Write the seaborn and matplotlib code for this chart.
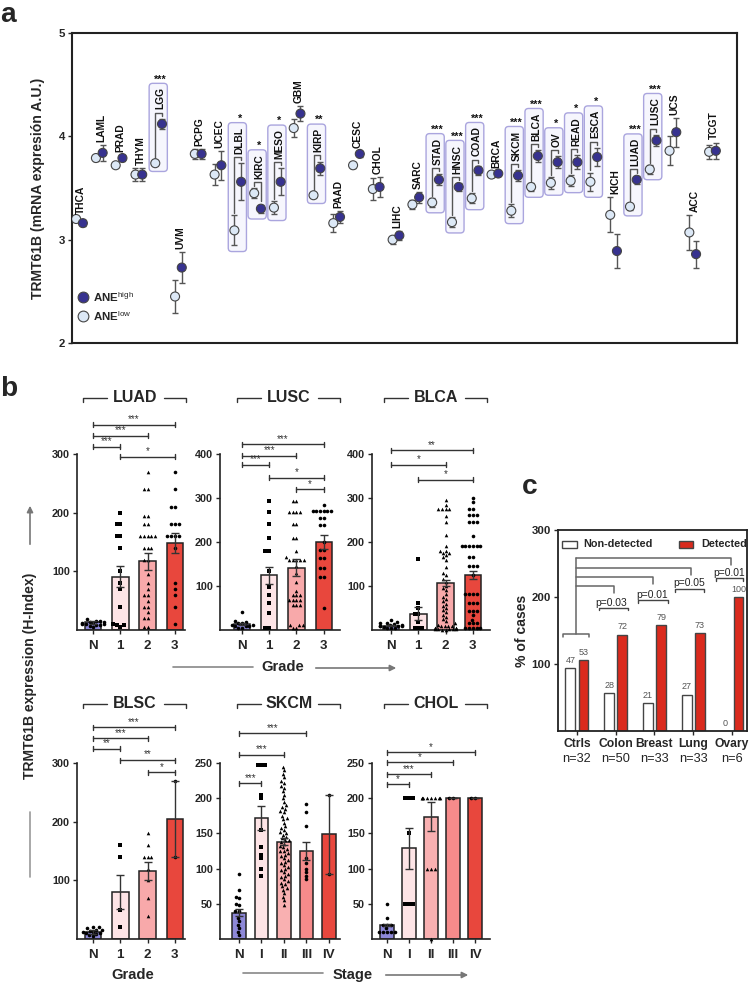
import warnings
warnings.filterwarnings('ignore')
import numpy as np
import pandas as pd
import matplotlib
matplotlib.use('Agg')
import matplotlib.pyplot as plt
import seaborn as sns
from matplotlib.patches import FancyBboxPatch, Rectangle, FancyArrowPatch
from matplotlib.lines import Line2D
from matplotlib import font_manager

# ---------------- data: panel a ----------------
cancers = ['THCA', 'LAML', 'PRAD', 'THYM', 'LGG', 'UVM', 'PCPG', 'UCEC', 'DLBL', 'KIRC', 'MESO',
           'GBM', 'KIRP', 'PAAD', 'CESC', 'CHOL', 'LIHC', 'SARC', 'STAD', 'HNSC', 'COAD', 'BRCA',
           'SKCM', 'BLCA', 'OV', 'READ', 'ESCA', 'KICH', 'LUAD', 'LUSC', 'UCS', 'ACC', 'TCGT']
ane_low = [3.20, 3.79, 3.72, 3.63, 3.74, 2.45, 3.83, 3.63, 3.09, 3.45, 3.31, 4.08, 3.43, 3.16, 3.72,
           3.49, 3.00, 3.34, 3.36, 3.17, 3.40, 3.63, 3.28, 3.51, 3.55, 3.57, 3.56, 3.24, 3.32, 3.68,
           3.86, 3.07, 3.85]
ane_high = [3.16, 3.84, 3.79, 3.63, 4.12, 2.73, 3.83, 3.72, 3.56, 3.30, 3.56, 4.22, 3.69, 3.22, 3.83,
            3.51, 3.04, 3.41, 3.58, 3.51, 3.67, 3.64, 3.62, 3.81, 3.75, 3.75, 3.80, 2.89, 3.58, 3.96,
            4.04, 2.86, 3.86]
err_low = [0.02, 0.03, 0.02, 0.065, 0.02, 0.16, 0.05, 0.10, 0.145, 0.05, 0.065, 0.09, 0.02, 0.09, 0.03,
           0.11, 0.04, 0.045, 0.04, 0.045, 0.05, 0.02, 0.065, 0.04, 0.06, 0.055, 0.09, 0.17, 0.03, 0.04,
           0.14, 0.17, 0.065]
err_high = [0.03, 0.08, 0.03, 0.065, 0.05, 0.15, 0.05, 0.14, 0.18, 0.04, 0.13, 0.07, 0.065, 0.06, 0.03,
            0.10, 0.04, 0.055, 0.055, 0.04, 0.045, 0.02, 0.055, 0.055, 0.06, 0.07, 0.09, 0.165, 0.04,
            0.055, 0.14, 0.13, 0.08]
sig_a = ['', '', '', '', '***', '', '', '', '*', '*', '*', '', '**', '', '', '', '', '', '***', '***',
         '***', '', '***', '***', '*', '*', '*', '', '***', '***', '', '', '']

# ---------------- data: panel b ----------------
cats_grade = ['N', '1', '2', '3']
cats_stage = ['N', 'I', 'II', 'III', 'IV']

luad_mean = [13, 91, 117, 148]
luad_sem = [3, 18, 14, 17]
luad_N = [5, 7, 9, 10, 11, 12, 13, 14, 15, 16, 18, 8, 10, 12]
luad_1 = [200, 180, 180, 160, 160, 140, 100, 80, 70, 40, 10, 8, 8, 5]
luad_2 = [270, 240, 240, 195, 195, 180, 180, 160, 160, 160, 160, 160, 140, 140, 140, 120, 120, 95, 80,
          70, 60, 60, 50, 40, 40, 30, 20, 20, 5, 5]
luad_3 = [270, 240, 210, 210, 180, 180, 180, 160, 160, 160, 160, 140, 80, 70, 60, 40, 10]
luad_sig = [(0, 3, '***', 350), (0, 2, '***', 331), (0, 1, '***', 312), (1, 3, '*', 295)]

lusc_mean = [14, 124, 142, 200]
lusc_sem = [3, 20, 20, 15]
lusc_N = [40, 20, 18, 15, 15, 12, 12, 10, 10, 8, 5, 5]
lusc_1 = [294, 269, 242, 208, 180, 180, 133, 98, 80, 61, 39, 5, 5]
lusc_2 = [294, 294, 269, 269, 269, 269, 240, 240, 208, 208, 180, 165, 159, 159, 159, 159, 159, 145,
          130, 110, 89, 80, 80, 80, 68, 68, 68, 68, 57, 57, 57, 11, 11, 11, 5, 5]
lusc_3 = [285, 270, 270, 270, 270, 270, 270, 254, 254, 239, 239, 200, 182, 182, 163, 163, 140, 140,
          121, 121, 51]
lusc_sig = [(0, 3, '***', 422), (0, 2, '***', 396), (0, 1, '***', 375), (1, 3, '*', 346), (2, 3, '*', 320)]

blca_mean = [10, 37, 107, 125]
blca_sem = [2, 15, 7, 8]
blca_N = [22, 18, 15, 13, 12, 10, 10, 8, 8, 6, 5, 5, 4, 12, 15]
blca_1 = [161, 61, 49, 36, 36, 19, 5, 5, 5]
blca_2 = [295, 285, 275, 275, 275, 275, 260, 245, 215, 190, 180, 180, 175, 175, 170, 165, 160, 143,
          130, 124, 115, 110, 100, 95, 90, 81, 75, 70, 65, 60, 55, 50, 45, 40, 35, 30, 25, 20, 15, 12,
          10, 10, 8, 8, 5, 5, 5, 5, 3, 3, 2, 2, 2, 0, 0]
blca_3 = [300, 290, 275, 275, 262, 262, 262, 245, 245, 245, 213, 190, 190, 190, 190, 190, 190, 166,
          166, 146, 146, 146, 124, 81, 81, 81, 81, 62, 62, 62, 43, 43, 43, 34, 23, 15, 15, 15, 4, 4,
          4, 4, 4]
blca_sig = [(0, 3, '**', 408), (0, 2, '*', 375), (1, 3, '*', 341)]

blsc_mean = [12, 80, 116, 205]
blsc_sem = [3, 29, 15, 65]
blsc_N = [20, 20, 18, 15, 15, 12, 10, 10, 8, 6, 5, 12, 14]
blsc_1 = [160, 140, 50, 20]
blsc_2 = [180, 160, 140, 140, 140, 120, 100, 70, 40]
blsc_3 = [270, 140]
blsc_sig = [(0, 3, '***', 361), (0, 2, '***', 342), (0, 1, '**', 324), (1, 3, '**', 305), (2, 3, '*', 284)]

skcm_mean = [37, 172, 138, 125, 149]
skcm_sem = [5, 17, 5, 13, 56]
skcm_N = [92, 70, 60, 58, 50, 48, 40, 40, 30, 25, 20, 15, 10, 5]
skcm_1 = [247, 247, 247, 205, 200, 155, 130, 120, 115, 100, 90]
skcm_2 = [245, 240, 235, 230, 225, 222, 218, 215, 210, 205, 200, 195, 190, 188, 185, 182, 180, 175,
          172, 170, 165, 160, 158, 155, 152, 150, 148, 145, 143, 140, 140, 138, 135, 132, 130, 128,
          125, 125, 122, 120, 118, 115, 112, 110, 108, 105, 102, 100, 98, 95, 92, 90, 88, 85, 82, 80,
          78, 75, 72, 70, 65, 60, 55, 48]
skcm_3 = [192, 180, 160, 115, 108, 100, 95, 90, 85]
skcm_4 = [205, 93]
skcm_sig = [(0, 3, '***', 292), (0, 2, '***', 262), (0, 1, '***', 221)]

chol_mean = [20, 129, 174, 200, 200]
chol_sem = [2, 29, 21, 0, 0]
chol_N = [50, 30, 20, 20, 10, 10, 10, 10, 10, 20, 15]
chol_1 = [200, 200, 200, 150, 50, 50, 50]
chol_2 = [200, 200, 200, 200, 200, 200, 200, 200, 100, 100, 100, 0]
chol_3 = [200, 200]
chol_4 = [200, 200]
chol_sig = [(0, 4, '*', 265), (0, 3, '*', 251), (0, 2, '***', 234), (0, 1, '*', 220)]

# ---------------- data: panel c ----------------
c_groups = ['Ctrls', 'Colon', 'Breast', 'Lung', 'Ovary']
c_n = ['n=32', 'n=50', 'n=33', 'n=33', 'n=6']
nondet_h = [94, 56, 42, 54, 0]
det_h = [106, 144, 158, 146, 200]
nondet_lbl = ['47', '28', '21', '27', '0']
det_lbl = ['53', '72', '79', '73', '100']
c_pvals = ['p=0.03', 'p=0.01', 'p=0.05', 'p=0.01']

# ---------------- style ----------------
sns.set_theme(style='white')
avail = {f.name for f in font_manager.fontManager.ttflist}
base_font = 'Liberation Sans Narrow' if 'Liberation Sans Narrow' in avail else 'Liberation Sans'
plt.rcParams['font.family'] = [base_font, 'DejaVu Sans']
plt.rcParams['mathtext.fontset'] = 'custom'
plt.rcParams['mathtext.rm'] = base_font
plt.rcParams['mathtext.bf'] = base_font + ':bold'
plt.rcParams['axes.edgecolor'] = '#222222'
NARROW = base_font == 'Liberation Sans Narrow'
fs = (lambda v: v * 1.08) if NARROW else (lambda v: v * 0.92)

W, H = 749, 983
fig = plt.figure(figsize=(W / 100, H / 100), dpi=100)
fig.patch.set_facecolor('white')


def px_axes(l, t, r, b):
    return fig.add_axes([l / W, 1 - b / H, (r - l) / W, (b - t) / H])


def fline(xs, ys, **kw):
    fig.add_artist(Line2D([x / W for x in xs], [1 - y / H for y in ys],
                          transform=fig.transFigure, **kw))


def ftext(x, y, s, **kw):
    fig.text(x / W, 1 - y / H, s, **kw)


def farrow(x0, y0, x1, y1):
    fig.add_artist(FancyArrowPatch((x0 / W, 1 - y0 / H), (x1 / W, 1 - y1 / H),
                                   transform=fig.transFigure, arrowstyle='-|>',
                                   mutation_scale=9, color='#777777', lw=1.2))


DARK = '#37328f'
LIGHT = '#dce8f6'

# ================= panel a =================
axA = px_axes(72, 33, 737, 343)
n = len(cancers)
idx = np.arange(n)
dfA = pd.DataFrame({
    'pos': np.r_[idx - 0.17, idx + 0.17],
    'val': ane_low + ane_high,
    'err': err_low + err_high,
    'grp': ['low'] * n + ['high'] * n,
})
axA.errorbar(dfA['pos'], dfA['val'], yerr=dfA['err'], fmt='none', ecolor='#555555',
             elinewidth=1, capsize=2.5, capthick=1, zorder=3)
sns.scatterplot(data=dfA, x='pos', y='val', hue='grp', palette={'low': LIGHT, 'high': DARK},
                s=42, edgecolor='#444444', linewidth=0.8, legend=False, ax=axA, zorder=4)
axA.set_xlim(-0.38, 33.24)
axA.set_ylim(2, 5)
axA.set_yticks([2, 3, 4, 5])
axA.set_yticklabels(['2', '3', '4', '5'], fontweight='bold', fontsize=fs(9))
axA.set_xticks([])
axA.set_xlabel('')
axA.set_ylabel('TRMT61B (mRNA expresión A.U.)', fontweight='bold', fontsize=fs(11), labelpad=10)
axA.tick_params(axis='y', length=3, width=1, pad=2, left=True)
for sp in axA.spines.values():
    sp.set_linewidth(1.5)

labels_a = []
for i in range(n):
    top = max(ane_low[i] + err_low[i], ane_high[i] + err_high[i])
    if sig_a[i]:
        by = top + 0.06
        xl, xh = i - 0.17, i + 0.17
        axA.plot([xl, xl, xh, xh],
                 [ane_low[i] + err_low[i] + 0.02, by, by, ane_high[i] + err_high[i] + 0.03],
                 color='#555555', lw=1, zorder=2)
        t = axA.text(i + 0.1, by + 0.03, cancers[i], rotation=90, ha='center', va='bottom',
                     fontsize=fs(8), fontweight='bold', color='#111111', zorder=5)
    else:
        t = axA.text(i + 0.08, top + 0.03, cancers[i], rotation=90, ha='center', va='bottom',
                     fontsize=fs(8), fontweight='bold', color='#111111', zorder=5)
    labels_a.append(t)

fig.canvas.draw()
inv = axA.transData.inverted()
for i in range(n):
    if not sig_a[i]:
        continue
    bb = labels_a[i].get_window_extent()
    ytop = inv.transform((bb.x1, bb.y1))[1] + 0.04
    ybot = min(ane_low[i] - err_low[i], ane_high[i] - err_high[i]) - 0.06
    box = FancyBboxPatch((i - 0.48, ybot), 0.92, ytop - ybot,
                         boxstyle='round,pad=0,rounding_size=0.18',
                         mutation_aspect=0.19, facecolor='#f6f6fd', edgecolor='#aaa5de',
                         lw=1, zorder=1)
    axA.add_patch(box)
    axA.text(i + 0.1, ytop - 0.01, sig_a[i], ha='center', va='bottom', fontsize=fs(8.5),
             fontweight='bold', color='#111111', zorder=5)

# legend panel a
axA.scatter([0.016], [0.148], s=60, color=DARK, edgecolor='#444444', lw=0.8,
            transform=axA.transAxes, clip_on=False, zorder=6)
axA.scatter([0.016], [0.088], s=60, color=LIGHT, edgecolor='#444444', lw=0.8,
            transform=axA.transAxes, clip_on=False, zorder=6)
axA.text(0.032, 0.148, r'$\mathbf{ANE}^{\mathrm{high}}$', transform=axA.transAxes,
         va='center', fontsize=fs(9))
axA.text(0.032, 0.088, r'$\mathbf{ANE}^{\mathrm{low}}$', transform=axA.transAxes,
         va='center', fontsize=fs(9))

# ================= panel b =================
grade_colors = ['#8d88d8', '#fde4e6', '#f8a9aa', '#e8473d']
stage_colors = ['#8d88d8', '#fde4e6', '#f9b0b1', '#f68b8b', '#e8473d']
grade_markers = ['o', 's', '^', 'o']
stage_markers = ['o', 's', '^', 'o', 'o']


def bar_panel(box, cats, means, sems, groups, markers, colors, ymax, yticks, sigs, xlim):
    ax = px_axes(*box)
    ax_h = box[3] - box[1]
    dfb = pd.DataFrame({'cat': cats, 'mean': means})
    sns.barplot(data=dfb, x='cat', y='mean', hue='cat', order=cats, hue_order=cats,
                palette=colors, saturation=1, width=0.6, edgecolor='#222222', linewidth=1.1,
                legend=False, errorbar=None, ax=ax, zorder=1)
    for c, vals, m in zip(cats, groups, markers):
        dfp = pd.DataFrame({'cat': [c] * len(vals), 'v': vals})
        sns.swarmplot(data=dfp, x='cat', y='v', order=cats, marker=m, color='black',
                      size=2.6, linewidth=0, ax=ax, zorder=4, warn_thresh=1, clip_on=False)
    ax.errorbar(np.arange(len(cats)), means, yerr=sems, fmt='none', ecolor='#333333',
                elinewidth=1, capsize=3, capthick=1, zorder=5)
    ax.set_ylim(0, ymax)
    ax.set_xlim(*xlim)
    ax.set_yticks(yticks)
    ax.set_yticklabels([str(v) for v in yticks], fontweight='bold', fontsize=fs(8.5))
    ax.set_xticks(range(len(cats)))
    ax.set_xticklabels(cats, fontweight='bold', fontsize=fs(10.5))
    ax.set_xlabel('')
    ax.set_ylabel('')
    ax.tick_params(axis='both', length=3, width=1, pad=2, left=True, bottom=True)
    ax.tick_params(axis='x', pad=4)
    sns.despine(ax=ax)
    for sp in ['left', 'bottom']:
        ax.spines[sp].set_linewidth(1.2)
    d = 2.5 * ymax / ax_h
    for a, b, s, y in sigs:
        ax.plot([a, b], [y, y], color='#333333', lw=1, clip_on=False)
        ax.plot([a, a], [y - d, y + d], color='#333333', lw=1, clip_on=False)
        ax.plot([b, b], [y - d, y + d], color='#333333', lw=1, clip_on=False)
        ax.text((a + b) / 2, y + d * 0.2, s, ha='center', va='bottom', fontsize=fs(7.5),
                color='#333333')
    return ax


bar_panel((77, 454, 185, 630), cats_grade, luad_mean, luad_sem,
          [luad_N, luad_1, luad_2, luad_3], grade_markers, grade_colors, 300, [100, 200, 300],
          luad_sig, (-0.59, 3.37))
bar_panel((220, 454, 340, 630), cats_grade, lusc_mean, lusc_sem,
          [lusc_N, lusc_1, lusc_2, lusc_3], grade_markers, grade_colors, 400,
          [100, 200, 300, 400], lusc_sig, (-0.81, 3.6))
bar_panel((372, 454, 490, 630), cats_grade, blca_mean, blca_sem,
          [blca_N, blca_1, blca_2, blca_3], grade_markers, grade_colors, 400,
          [100, 200, 300, 400], blca_sig, (-0.7, 3.63))
bar_panel((77, 763, 185, 939), cats_grade, blsc_mean, blsc_sem,
          [blsc_N, blsc_1, blsc_2, blsc_3], grade_markers, grade_colors, 300, [100, 200, 300],
          blsc_sig, (-0.59, 3.37))
bar_panel((220, 763, 340, 939), cats_stage, skcm_mean, skcm_sem,
          [skcm_N, skcm_1, skcm_2, skcm_3, skcm_4], stage_markers, stage_colors, 250,
          [50, 100, 150, 200, 250], skcm_sig, (-0.85, 4.5))
bar_panel((372, 763, 490, 939), cats_stage, chol_mean, chol_sem,
          [chol_N, chol_1, chol_2, chol_3, chol_4], stage_markers, stage_colors, 250,
          [50, 100, 150, 200, 250], chol_sig, (-0.68, 4.68))

# titles with bracket lines
for name, cx, cy in [('LUAD', 135, 398), ('LUSC', 289, 398), ('BLCA', 436, 398),
                     ('BLSC', 135, 704), ('SKCM', 289, 704), ('CHOL', 436, 704)]:
    ftext(cx, cy, name, ha='center', va='center', fontsize=fs(12.5), fontweight='bold')
    fline([cx - 52, cx - 52, cx - 28], [cy + 4, cy, cy], color='#333333', lw=1)
    fline([cx + 29, cx + 51, cx + 51], [cy, cy, cy + 4], color='#333333', lw=1)

# axis labels panel b
ftext(30, 676, 'TRMT61B expression (H-Index)', rotation=90, ha='center', va='center',
      fontsize=fs(11), fontweight='bold')
farrow(30, 547, 30, 503)
fline([30, 30], [812, 877], color='#999999', lw=1.2)
ftext(283, 667, 'Grade', ha='center', va='center', fontsize=fs(11.5), fontweight='bold')
fline([173, 253], [667, 667], color='#888888', lw=1.2)
farrow(313, 668, 399, 668)
ftext(133, 975, 'Grade', ha='center', va='center', fontsize=fs(11.5), fontweight='bold')
ftext(353, 975, 'Stage', ha='center', va='center', fontsize=fs(11.5), fontweight='bold')
fline([243, 323], [973, 973], color='#888888', lw=1.2)
farrow(383, 975, 471, 975)

# ================= panel c =================
axC = px_axes(558, 530, 747, 731)
dfc = pd.DataFrame({
    'group': c_groups * 2,
    'h': nondet_h + det_h,
    'type': ['Non-detected'] * 5 + ['Detected'] * 5,
})
sns.barplot(data=dfc, x='group', y='h', hue='type', order=c_groups,
            hue_order=['Non-detected', 'Detected'],
            palette={'Non-detected': 'white', 'Detected': '#da2a1d'}, saturation=1,
            width=0.68, gap=0.25, edgecolor='#444444', linewidth=1, legend=False,
            errorbar=None, ax=axC)
axC.set_xlim(-0.49, 4.39)
axC.set_ylim(0, 300)
axC.set_yticks([100, 200, 300])
axC.set_yticklabels(['100', '200', '300'], fontweight='bold', fontsize=fs(9))
axC.set_xticks(range(5))
axC.set_xticklabels(c_groups, fontweight='bold', fontsize=fs(9.5))
axC.tick_params(axis='both', length=3, width=1, pad=2, left=True, bottom=True)
axC.set_xlabel('')
axC.set_ylabel('% of cases', fontweight='bold', fontsize=fs(11), labelpad=2)
for sp in axC.spines.values():
    sp.set_linewidth(1.3)
for i in range(5):
    axC.text(i - 0.17, nondet_h[i] + 5, nondet_lbl[i], ha='center', va='bottom', fontsize=fs(7),
             color='#555555')
    axC.text(i + 0.17, det_h[i] + 5, det_lbl[i], ha='center', va='bottom', fontsize=fs(7),
             color='#555555')
    axC.annotate(c_n[i], (i, 0), xycoords=('data', 'axes fraction'), xytext=(0, -16),
                 textcoords='offset points', ha='center', va='top', fontsize=fs(10),
                 color='#222222')

gc = '#666666'
axC.plot([-0.36, -0.36, 0.3, 0.3], [140, 145, 145, 140], color=gc, lw=1.1)
axC.plot([-0.03, -0.03], [145, 258], color=gc, lw=1.1)
for xe, ly in [(0.95, 216), (1.96, 230), (2.94, 243), (3.97, 258)]:
    axC.plot([-0.03, xe, xe], [ly, ly, ly - 10], color=gc, lw=1.1)
for (tx, ty, x0, x1, uy), p in zip([(0.88, 191, 0.57, 1.31, 184), (1.95, 203, 1.57, 2.35, 195),
                                    (2.9, 221, 2.53, 3.27, 212), (3.93, 236, 3.58, 4.28, 228)],
                                   c_pvals):
    axC.text(tx, ty, p, ha='center', va='center', fontsize=fs(8), color='#222222')
    axC.plot([x0, x0, x1, x1], [uy - 4, uy, uy, uy - 4], color='#444444', lw=1)

# legend c
axC.add_patch(Rectangle(((562 - 558) / 189, (731 - 548) / 201), 15 / 189, 7 / 201,
                        transform=axC.transAxes, facecolor='white', edgecolor='#444444', lw=1))
axC.add_patch(Rectangle(((679 - 558) / 189, (731 - 548) / 201), 14 / 189, 7 / 201,
                        transform=axC.transAxes, facecolor='#da2a1d', edgecolor='#444444', lw=1))
axC.text((583 - 558) / 189, (731 - 544) / 201, 'Non-detected', transform=axC.transAxes,
         va='center', fontsize=fs(8.5), fontweight='bold')
axC.text((701 - 558) / 189, (731 - 544) / 201, 'Detected', transform=axC.transAxes,
         va='center', fontsize=fs(8.5), fontweight='bold')

# panel letters
ftext(0, 2, 'a', fontsize=fs(22), fontweight='bold', va='top', ha='left')
ftext(0, 376, 'b', fontsize=fs(22), fontweight='bold', va='top', ha='left')
ftext(522, 474, 'c', fontsize=fs(22), fontweight='bold', va='top', ha='left')

fig.savefig('out.png', dpi=100, facecolor='white')
